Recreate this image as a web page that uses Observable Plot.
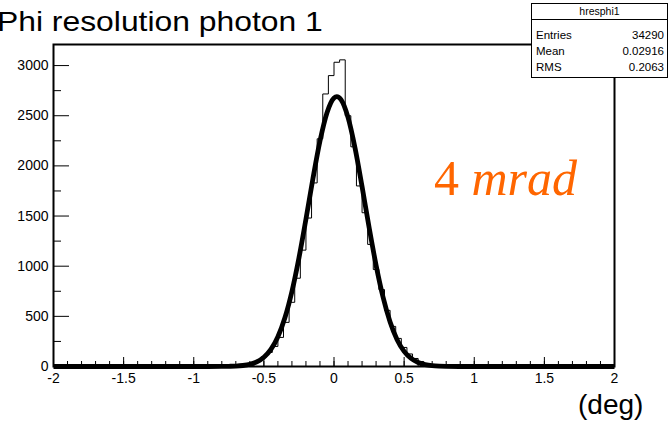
<!DOCTYPE html>
<html>
<head>
<meta charset="utf-8">
<script src="https://cdn.jsdelivr.net/npm/d3@7"></script>
<script src="https://cdn.jsdelivr.net/npm/@observablehq/plot@0.6"></script>
<style>
  html, body { margin: 0; padding: 0; background: #fff; overflow: hidden; }
  #chart svg { display: block; }
</style>
</head>
<body>
<div id="chart"></div>
<script>
// ---- Data ----
const histName = "hresphi1";
const titleText = "Phi resolution photon 1";
const axisUnitText = "(deg)";
const annotationNumber = "4";
const annotationUnit = "mrad";

const statsLabels = ["Entries", "Mean", "RMS"];
const statsValues = ["34290", "0.02916", "0.2063"];

// histogram: 100 bins from -2 to 2 (width 0.04)
const histLow = -2;
const histHigh = 2;
const histBinWidth = 0.04;
const histCounts = [
  0,0,0,0,0,0,0,0,0,0,
  0,0,0,0,0,0,0,0,0,0,
  0,0,0,0,0,0,0,0,0,0,
  2,4,8,14,25,40,62,95,140,200,
  290,440,640,880,1160,1480,1830,2270,2717,2900,
  3033,3057,2500,2190,1800,1533,1217,967,767,560,
  400,280,190,125,80,50,30,18,10,5,
  3,1,0,0,0,0,0,0,0,0,
  0,0,0,0,0,0,0,0,0,0,
  0,0,0,0,0,0,0,0,0,0
];

// fitted curve
const fitX = [-2, -1, -0.9, -0.8, -0.75, -0.7, -0.65, -0.6, -0.55, -0.5, -0.45, -0.4,
  -0.35, -0.3, -0.25, -0.2, -0.15, -0.1, -0.05, 0, 0.02, 0.05, 0.1, 0.15, 0.2, 0.25,
  0.3, 0.35, 0.4, 0.45, 0.5, 0.55, 0.6, 0.65, 0.7, 0.75, 0.8, 0.9, 1, 2];
const fitY = [0, 0, 0, 1, 2, 4, 10, 22, 46, 92, 170, 297,
  486, 748, 1082, 1469, 1875, 2247, 2530, 2677, 2690, 2660, 2483, 2178, 1794, 1389,
  1010, 690, 443, 267, 151, 80, 40, 19, 8, 3, 1, 0, 0, 0];

// axes
const xMajorTicks = [-2, -1.5, -1, -0.5, 0, 0.5, 1, 1.5, 2];
const xTickLabels = ["-2", "-1.5", "-1", "-0.5", "0", "0.5", "1", "1.5", "2"];
const xMinorTicks = d3.range(-20, 21).map(i => i / 10);
const yMajorTicks = [0, 500, 1000, 1500, 2000, 2500, 3000];
const yTickLabels = ["0", "500", "1000", "1500", "2000", "2500", "3000"];
const yMinorTicks = [250, 750, 1250, 1750, 2250, 2750];
const xDomain = [-2, 2];
const yDomain = [0, 3210];

// ---- Build tables ----
const histPoints = histCounts.map((c, i) => ({x: histLow + i * histBinWidth, y: c}))
  .concat([{x: histHigh, y: histCounts[histCounts.length - 1]}]);
const fitPoints = fitX.map((x, i) => ({x, y: fitY[i]}));

const W = 668, H = 425;
const mL = 53, mR = 54, mT = 44, mB = 59;
const frameW = W - mL - mR, frameH = H - mT - mB;
const FONT = "'Liberation Sans', Arial, Helvetica, sans-serif";

const chart = Plot.plot({
  width: W,
  height: H,
  marginLeft: mL,
  marginRight: mR,
  marginTop: mT,
  marginBottom: mB,
  x: {domain: xDomain},
  y: {domain: yDomain},
  style: {fontFamily: FONT, background: "white", color: "black", overflow: "visible"},
  marks: [
    Plot.tickX(xMinorTicks, {insetTop: frameH - 5, stroke: "black", strokeWidth: 1}),
    Plot.tickX(xMajorTicks, {insetTop: frameH - 9, stroke: "black", strokeWidth: 1}),
    Plot.tickY(yMinorTicks, {insetRight: frameW - 8, stroke: "black", strokeWidth: 1}),
    Plot.tickY(yMajorTicks, {insetRight: frameW - 16, stroke: "black", strokeWidth: 1}),
    Plot.axisX(xMajorTicks, {
      tickSize: 0, tickPadding: 7, fontSize: 14, label: null,
      tickFormat: d => xTickLabels[xMajorTicks.indexOf(d)]
    }),
    Plot.axisY(yMajorTicks, {
      tickSize: 0, tickPadding: 5, fontSize: 14, label: null,
      tickFormat: d => yTickLabels[yMajorTicks.indexOf(d)]
    }),
    Plot.line(histPoints, {x: "x", y: "y", curve: "step-after", stroke: "black", strokeWidth: 1}),
    Plot.line(fitPoints, {x: "x", y: "y", curve: "monotone-x", stroke: "black", strokeWidth: 4.8,
      strokeLinejoin: "round", strokeLinecap: "butt"}),
    Plot.frame({stroke: "black", strokeWidth: 2})
  ]
});

document.getElementById("chart").appendChild(chart);

// ---- Text and stats box overlays ----
const svg = d3.select(chart);

// Title
svg.append("text")
  .attr("transform", "translate(-3,31) scale(1.18,1)")
  .attr("text-anchor", "start")
  .attr("font-family", FONT)
  .attr("font-size", 27)
  .attr("fill", "black")
  .text(titleText);

// Unit label
svg.append("text")
  .attr("x", 578)
  .attr("y", 414)
  .attr("text-anchor", "start")
  .attr("font-family", FONT)
  .attr("font-size", 28)
  .attr("fill", "black")
  .text(axisUnitText);

// Orange annotation
const ann = svg.append("text")
  .attr("x", 434)
  .attr("y", 195)
  .attr("text-anchor", "start")
  .attr("font-family", "'Liberation Serif', 'Times New Roman', serif")
  .attr("font-size", 50)
  .attr("fill", "#ff6600");
ann.append("tspan").text(annotationNumber + " ");
ann.append("tspan").attr("font-style", "italic").text(annotationUnit);

// Stats box
const bx = 531, by = 3, bw = 136, bh = 74, headerH = 16;
const g = svg.append("g").attr("text-anchor", "start");
g.append("rect").attr("x", bx + 0.5).attr("y", by + 0.5).attr("width", bw).attr("height", bh)
  .attr("fill", "white").attr("stroke", "black").attr("stroke-width", 1);
g.append("line").attr("x1", bx).attr("x2", bx + bw).attr("y1", by + headerH + 0.5).attr("y2", by + headerH + 0.5)
  .attr("stroke", "black").attr("stroke-width", 1);
g.append("text").attr("x", bx + bw / 2 + 0.5).attr("y", by + 12).attr("text-anchor", "middle")
  .attr("font-family", FONT).attr("font-size", 10.5).text(histName);
statsLabels.forEach((lab, i) => {
  const yy = 38.5 + i * 16;
  g.append("text").attr("x", 536).attr("y", yy).attr("text-anchor", "start")
    .attr("font-family", FONT).attr("font-size", 11.5).text(lab);
  g.append("text").attr("x", 664).attr("y", yy).attr("text-anchor", "end")
    .attr("font-family", FONT).attr("font-size", 11.5).text(statsValues[i]);
});
</script>
</body>
</html>
